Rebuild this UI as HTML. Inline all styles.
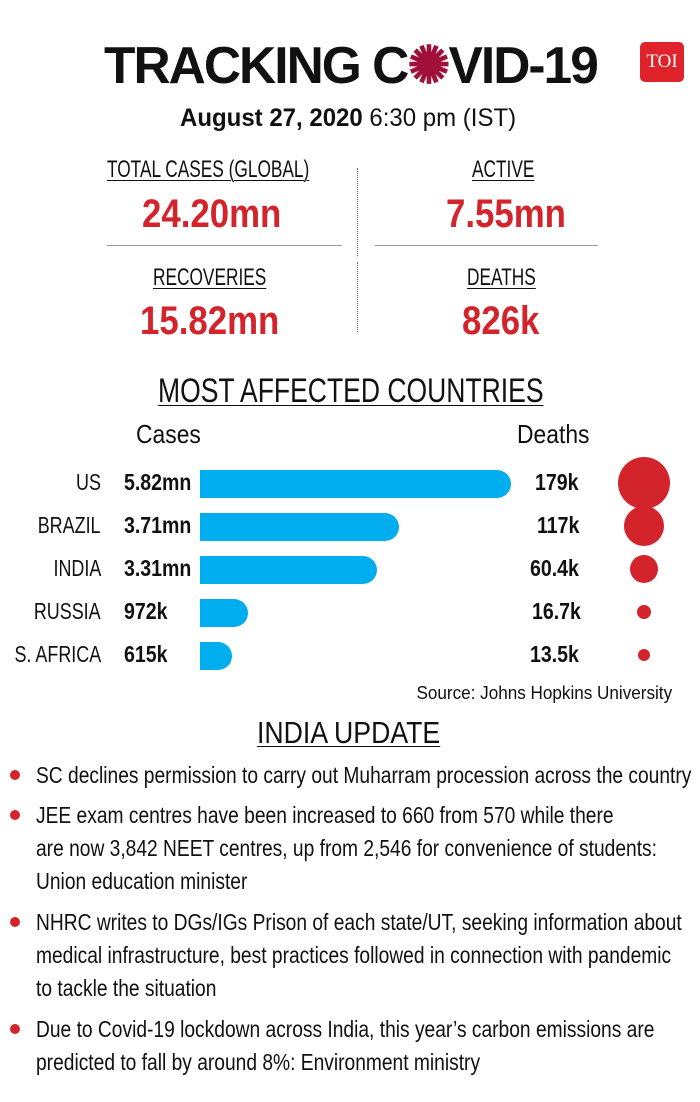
<!DOCTYPE html>
<html><head><meta charset="utf-8"><style>
body{margin:0;width:700px;height:1102px;background:#fff;position:relative;overflow:hidden;font-family:"Liberation Sans",sans-serif;color:#111}
.a{position:absolute;white-space:nowrap;line-height:1;transform-origin:left top}
.c{transform:scaleX(0.72)}
.red{color:#d3232b;font-weight:bold;font-size:40px;transform:scaleX(0.87)}
.u{text-decoration:underline;text-decoration-thickness:1px;text-underline-offset:3px}
.bar{position:absolute;left:200px;height:28px;background:#00aeef;border-radius:0 14px 14px 0}
.dot{position:absolute;background:#d3232b;border-radius:50%}
.b{position:absolute;left:10px;width:10px;height:10px;border-radius:50%;background:#d3232b}
.t{position:absolute;left:36px;font-size:23px;line-height:33px;white-space:nowrap;transform:scaleX(0.835);transform-origin:left top}
.lab{position:absolute;right:599px;font-size:23px;white-space:nowrap;line-height:1;transform:scaleX(0.78);transform-origin:right top}
.v{position:absolute;font-size:23px;font-weight:bold;white-space:nowrap;line-height:1;transform:scaleX(0.85);transform-origin:left top}
</style></head><body>
<div class="a" style="left:104px;top:40px;font-size:52px;font-weight:900;letter-spacing:-2px;transform:scaleX(0.99)">TRACKING C<span style="color:#a0103a">✺</span>VID-19</div>
<div class="a" style="left:640px;top:42px;width:44px;height:40px;background:#e0232b;border-radius:5px;color:#fff;font-family:'Liberation Serif',serif;font-size:19px;line-height:40px;text-align:center">TOI</div>
<div class="a" style="left:180px;top:106px;font-size:25px;transform:scaleX(0.96)"><b>August 27, 2020</b> 6:30 pm (IST)</div>
<div class="a u c" style="left:107px;top:158px;font-size:24px">TOTAL CASES (GLOBAL)</div>
<div class="a red" style="left:142px;top:194px">24.20mn</div>
<div class="a u c" style="left:472px;top:158px;font-size:24px">ACTIVE</div>
<div class="a red" style="left:446px;top:194px">7.55mn</div>
<div class="a" style="left:357px;top:168px;height:88px;border-left:1px dotted #666"></div>
<div class="a" style="left:357px;top:262px;height:70px;border-left:1px dotted #666"></div>
<div class="a" style="left:107px;top:245px;width:235px;border-top:1px solid #999"></div>
<div class="a" style="left:375px;top:245px;width:223px;border-top:1px solid #999"></div>
<div class="a u c" style="left:153px;top:266px;font-size:24px">RECOVERIES</div>
<div class="a red" style="left:140px;top:301px">15.82mn</div>
<div class="a u c" style="left:467px;top:266px;font-size:24px">DEATHS</div>
<div class="a red" style="left:462px;top:301px">826k</div>
<div class="a u" style="left:158px;top:374px;font-size:34px;transform:scaleX(0.78)">MOST AFFECTED COUNTRIES</div>
<div class="a" style="left:136px;top:421px;font-size:26px;transform:scaleX(0.88)">Cases</div>
<div class="a" style="left:517px;top:421px;font-size:26px;transform:scaleX(0.88)">Deaths</div>

<div class="lab" style="top:471px">US</div>
<div class="v" style="left:124px;top:471px">5.82mn</div>
<div class="bar" style="top:470px;width:311px"></div>
<div class="v" style="left:535px;top:471px">179k</div>
<div class="dot" style="left:618px;top:457px;width:52px;height:52px"></div>

<div class="lab" style="top:514px">BRAZIL</div>
<div class="v" style="left:124px;top:514px">3.71mn</div>
<div class="bar" style="top:513px;width:199px"></div>
<div class="v" style="left:537px;top:514px">117k</div>
<div class="dot" style="left:624px;top:506px;width:40px;height:40px"></div>

<div class="lab" style="top:557px">INDIA</div>
<div class="v" style="left:124px;top:557px">3.31mn</div>
<div class="bar" style="top:556px;width:177px"></div>
<div class="v" style="left:530px;top:557px">60.4k</div>
<div class="dot" style="left:630px;top:555px;width:28px;height:28px"></div>

<div class="lab" style="top:600px">RUSSIA</div>
<div class="v" style="left:124px;top:600px">972k</div>
<div class="bar" style="top:599px;width:48px"></div>
<div class="v" style="left:532px;top:600px">16.7k</div>
<div class="dot" style="left:637px;top:605px;width:14px;height:14px"></div>

<div class="lab" style="top:643px">S. AFRICA</div>
<div class="v" style="left:124px;top:643px">615k</div>
<div class="bar" style="top:642px;width:32px"></div>
<div class="v" style="left:530px;top:643px">13.5k</div>
<div class="dot" style="left:638px;top:649px;width:12px;height:12px"></div>

<div class="a" style="right:28px;top:684px;font-size:18px;transform:scaleX(0.95);transform-origin:right top">Source: Johns Hopkins University</div>
<div class="a u" style="left:257px;top:717px;font-size:31px;transform:scaleX(0.86)">INDIA UPDATE</div>

<div class="b" style="top:770px"></div>
<div class="t" style="top:759px">SC declines permission to carry out Muharram procession across the country</div>
<div class="b" style="top:810px"></div>
<div class="t" style="top:799px">JEE exam centres have been increased to 660 from 570 while there<br>are now 3,842 NEET centres, up from 2,546 for convenience of students:<br>Union education minister</div>
<div class="b" style="top:917px"></div>
<div class="t" style="top:906px">NHRC writes to DGs/IGs Prison of each state/UT, seeking information about<br>medical infrastructure, best practices followed in connection with pandemic<br>to tackle the situation</div>
<div class="b" style="top:1024px"></div>
<div class="t" style="top:1013px">Due to Covid-19 lockdown across India, this year’s carbon emissions are<br>predicted to fall by around 8%: Environment ministry</div>
</body></html>
